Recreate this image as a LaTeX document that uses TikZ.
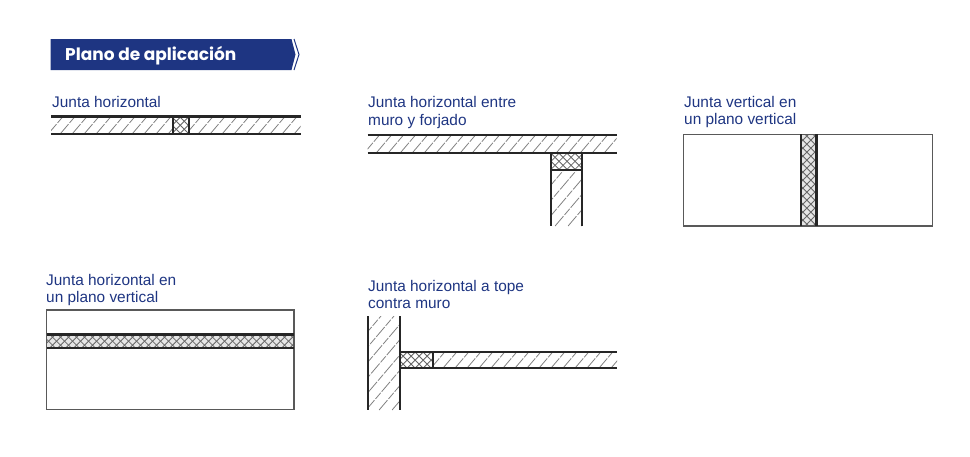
\documentclass[tikz,border=0pt]{standalone}
\usepackage{fontspec}
\setmainfont{Liberation Sans}
\newfontfamily\bannerfont{Poppins}
\definecolor{navy}{RGB}{30,53,130}
\tikzset{
  caption/.style={anchor=base west,inner sep=0pt,text=navy,font=\fontsize{15.4}{18}\selectfont},
  thick line/.style={draw=black!85,line width=2.2pt},
  thin line/.style={draw=black!65,line width=1.1pt},
  hatch line/.style={draw=black!50,line width=.8pt,dash pattern=on 13pt off 1.5pt on 8pt off 1.5pt},
  cross line/.style={draw=black!60,line width=.8pt}
}
\newcommand{\hatcharea}[5]{% x1 y1 x2 y2 spacing
  \begin{scope}
    \clip (#1,#2) rectangle (#3,#4);
    \pgfmathsetmacro{\hh}{#4-#2}
    \pgfmathsetmacro{\dd}{0.85*\hh}
    \pgfmathsetmacro{\st}{#1-\dd}
    \pgfmathsetmacro{\nx}{\st+#5}
    \foreach \i in {\st,\nx,...,#3}
      \draw[hatch line] (\i,#4) -- ++(\dd,-\hh);
  \end{scope}}
\newcommand{\crossarea}[5]{% x1 y1 x2 y2 background
  \begin{scope}
    \clip (#1,#2) rectangle (#3,#4);
    \fill[#5] (#1,#2) rectangle (#3,#4);
    \pgfmathsetmacro{\hh}{#4-#2}
    \pgfmathsetmacro{\ww}{#3-#1}
    \pgfmathsetmacro{\st}{#1-\hh-\ww}
    \pgfmathsetmacro{\nx}{\st+8}
    \pgfmathsetmacro{\en}{#3+\hh+\ww}
    \foreach \i in {\st,\nx,...,\en}{
      \draw[cross line] (\i,#4) -- ++(\hh,-\hh);
      \draw[cross line] (\i,#2) -- ++(\hh,\hh);
    }
  \end{scope}}
\begin{document}
\begin{tikzpicture}[x=1pt,y=-1pt]
\useasboundingbox (0,0) rectangle (970,456);
% banner
\fill[navy] (50.5,39) -- (291.5,39) -- (295.5,54.5) -- (291.5,70) -- (50.5,70) -- cycle;
\draw[navy,line width=1pt] (294,39) -- (299,54.5) -- (294,70);
\node[anchor=base west,inner sep=0pt,text=white,font=\bannerfont\bfseries\fontsize{17}{20}\selectfont] (title) at (65,60.5) {Plano de aplicación};

% panel 1
\node[caption] (c1) at (52,107.5) {Junta horizontal};
\hatcharea{51}{116.5}{173}{134}{12}
\hatcharea{189}{116.5}{300.5}{134}{12}
\crossarea{173}{116.5}{189}{134}{white}
\draw[thick line] (51,116.5) -- (300.5,116.5);
\draw[thick line] (51,134) -- (300.5,134);
\draw[thick line] (173.3,116.5) -- (173.3,134);
\draw[thick line] (189,116.5) -- (189,134);

% panel 2
\node[caption] (c2a) at (368,107.5) {Junta horizontal entre};
\node[caption] (c2b) at (368,125) {muro y forjado};
\hatcharea{367.5}{135}{616.5}{152.7}{12}
\crossarea{550.7}{152.7}{581.7}{170}{white}
\hatcharea{550.7}{170}{581.7}{226}{13}
\draw[thick line] (367.5,135) -- (616.5,135);
\draw[thick line] (367.5,152.7) -- (616.5,152.7);
\draw[thick line] (550.7,152.7) -- (550.7,226);
\draw[thick line] (581.7,152.7) -- (581.7,226);
\draw[thick line] (550.7,170) -- (581.7,170);

% panel 3
\node[caption] (c3a) at (684,107) {Junta vertical en};
\node[caption] (c3b) at (684,124.5) {un plano vertical};
\crossarea{800.7}{134.3}{816.7}{226}{black!10}
\draw[thin line] (683.5,134.3) rectangle (932.3,226);
\draw[thick line,line width=2.4pt] (801,134.3) -- (801,226);
\draw[thick line,line width=2.4pt] (816.5,134.3) -- (816.5,226);

% panel 4
\node[caption] (c4a) at (46,285) {Junta horizontal en};
\node[caption] (c4b) at (46,302.5) {un plano vertical};
\crossarea{46.7}{334.3}{294}{348}{black!10}
\draw[thin line] (46.7,310) rectangle (294,409.3);
\draw[thick line,line width=2.4pt] (46.7,334.3) -- (294,334.3);
\draw[thick line,line width=2.4pt] (46.7,348) -- (294,348);

% panel 5
\node[caption] (c5a) at (368,291.3) {Junta horizontal a tope};
\node[caption] (c5b) at (368,308.5) {contra muro};
\hatcharea{368}{316}{400}{410}{13}
\crossarea{400}{352}{432.7}{368.3}{white}
\hatcharea{432.7}{352}{617}{368.3}{12}
\draw[thick line] (368,316) -- (368,410);
\draw[thick line] (400,316) -- (400,410);
\draw[thick line] (400,352) -- (617,352);
\draw[thick line] (400,368.3) -- (617,368.3);
\draw[thick line] (432.7,352) -- (432.7,368.3);
\end{tikzpicture}
\end{document}
